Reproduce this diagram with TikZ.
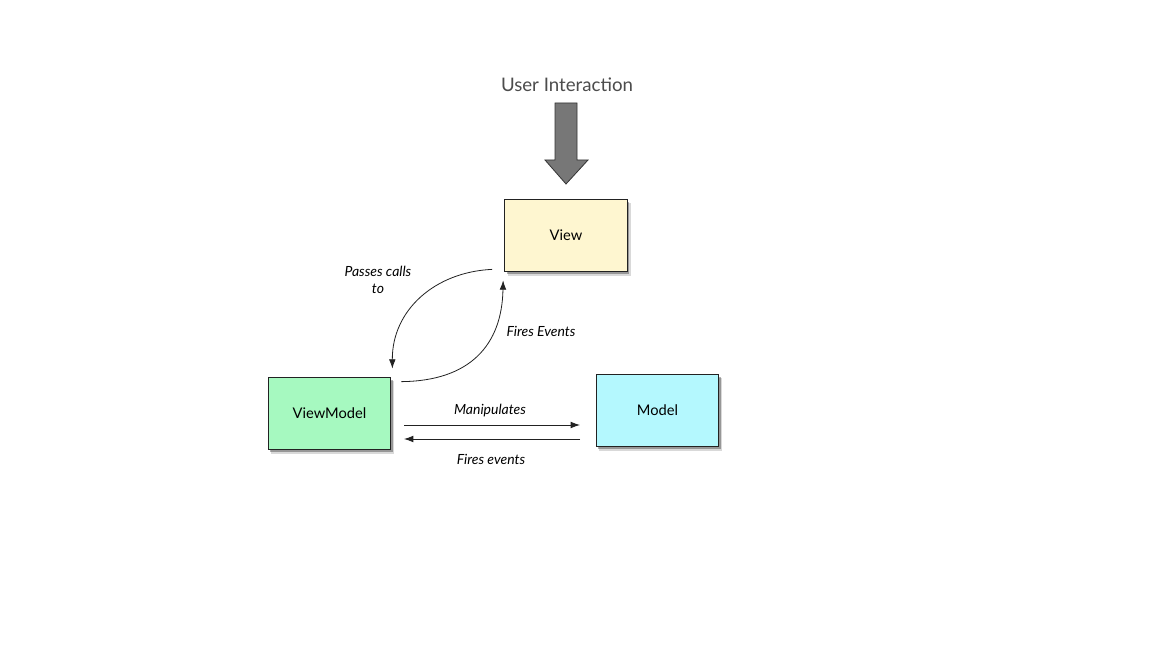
\documentclass[tikz,border=0pt]{standalone}
\usepackage{fontspec}
\setmainfont{Lato}
\usetikzlibrary{arrows.meta,shadows,calc}
\definecolor{viewfill}{HTML}{FEF6D0}
\definecolor{vmfill}{HTML}{A6F9C0}
\definecolor{modelfill}{HTML}{B4F8FE}
\definecolor{bigarrow}{HTML}{777777}
\definecolor{edge}{HTML}{222222}
\tikzset{
  box/.style={draw=edge, line width=0.8pt, minimum width=92pt, minimum height=54.5pt,
    inner sep=0pt, font=\fontsize{11pt}{13pt}\selectfont,
    drop shadow={shadow xshift=2.4pt, shadow yshift=-3pt, fill=black, opacity=0.15},
    drop shadow={shadow xshift=1.4pt, shadow yshift=-1.8pt, fill=black, opacity=0.3}},
  lbl/.style={font=\fontsize{10.5pt}{12.5pt}\selectfont\itshape, align=center, inner sep=0pt},
  conn/.style={draw=edge, line width=0.6pt, -{Latex[length=7pt,width=5pt]}},
}
\begin{document}
\begin{tikzpicture}[x=0.75pt,y=-0.75pt]
\useasboundingbox (0,0) rectangle (1152,648);
\fill[white] (0,0) rectangle (1152,648);
% boxes
\node[box, fill=viewfill] (view) at (566,235.5) {View};
\node[box, fill=vmfill] (vm) at (329.5,413.5) {ViewModel};
\node[box, fill=modelfill] (model) at (657.5,410.5) {Model};
% user interaction
\node[font=\fontsize{14pt}{16pt}\selectfont, text=black!70, inner sep=0pt] (ui) at (567,85) {User Interaction};
\coordinate (tip) at (566,184);
\filldraw[fill=bigarrow, draw=black!80, line width=0.6pt]
  (555,103) -- (577,103) -- (577,160) -- (588,160) -- (tip) -- (545,160) -- (555,160) -- cycle;
% curved connectors
\coordinate (pstart) at ($(view.south west)+(-12,-3)$);
\coordinate (pend) at ($(vm.north east)+(1,-8)$);
\draw[conn] (pstart) .. controls (435,272) and (392,310) .. (pend);
\coordinate (fstart) at ($(vm.north east)+(10,5)$);
\coordinate (fend) at ($(view.south west)+(-1,8)$);
\draw[conn] (fstart) .. controls (470,381) and (502,345) .. (fend);
% straight connectors
\coordinate (m1) at (404,425);
\coordinate (m2) at (580,425);
\coordinate (f1) at (580,439);
\coordinate (f2) at (404,439);
\draw[conn] (m1) -- (m2);
\draw[conn] (f1) -- (f2);
% labels
\node[lbl] (l1) at (378,280) {Passes calls\\to};
\node[lbl] (l2) at (541,331) {Fires Events};
\node[lbl] (l3) at (490,411) {Manipulates};
\node[lbl] (l4) at (491,459) {Fires events};
\end{tikzpicture}
\end{document}
